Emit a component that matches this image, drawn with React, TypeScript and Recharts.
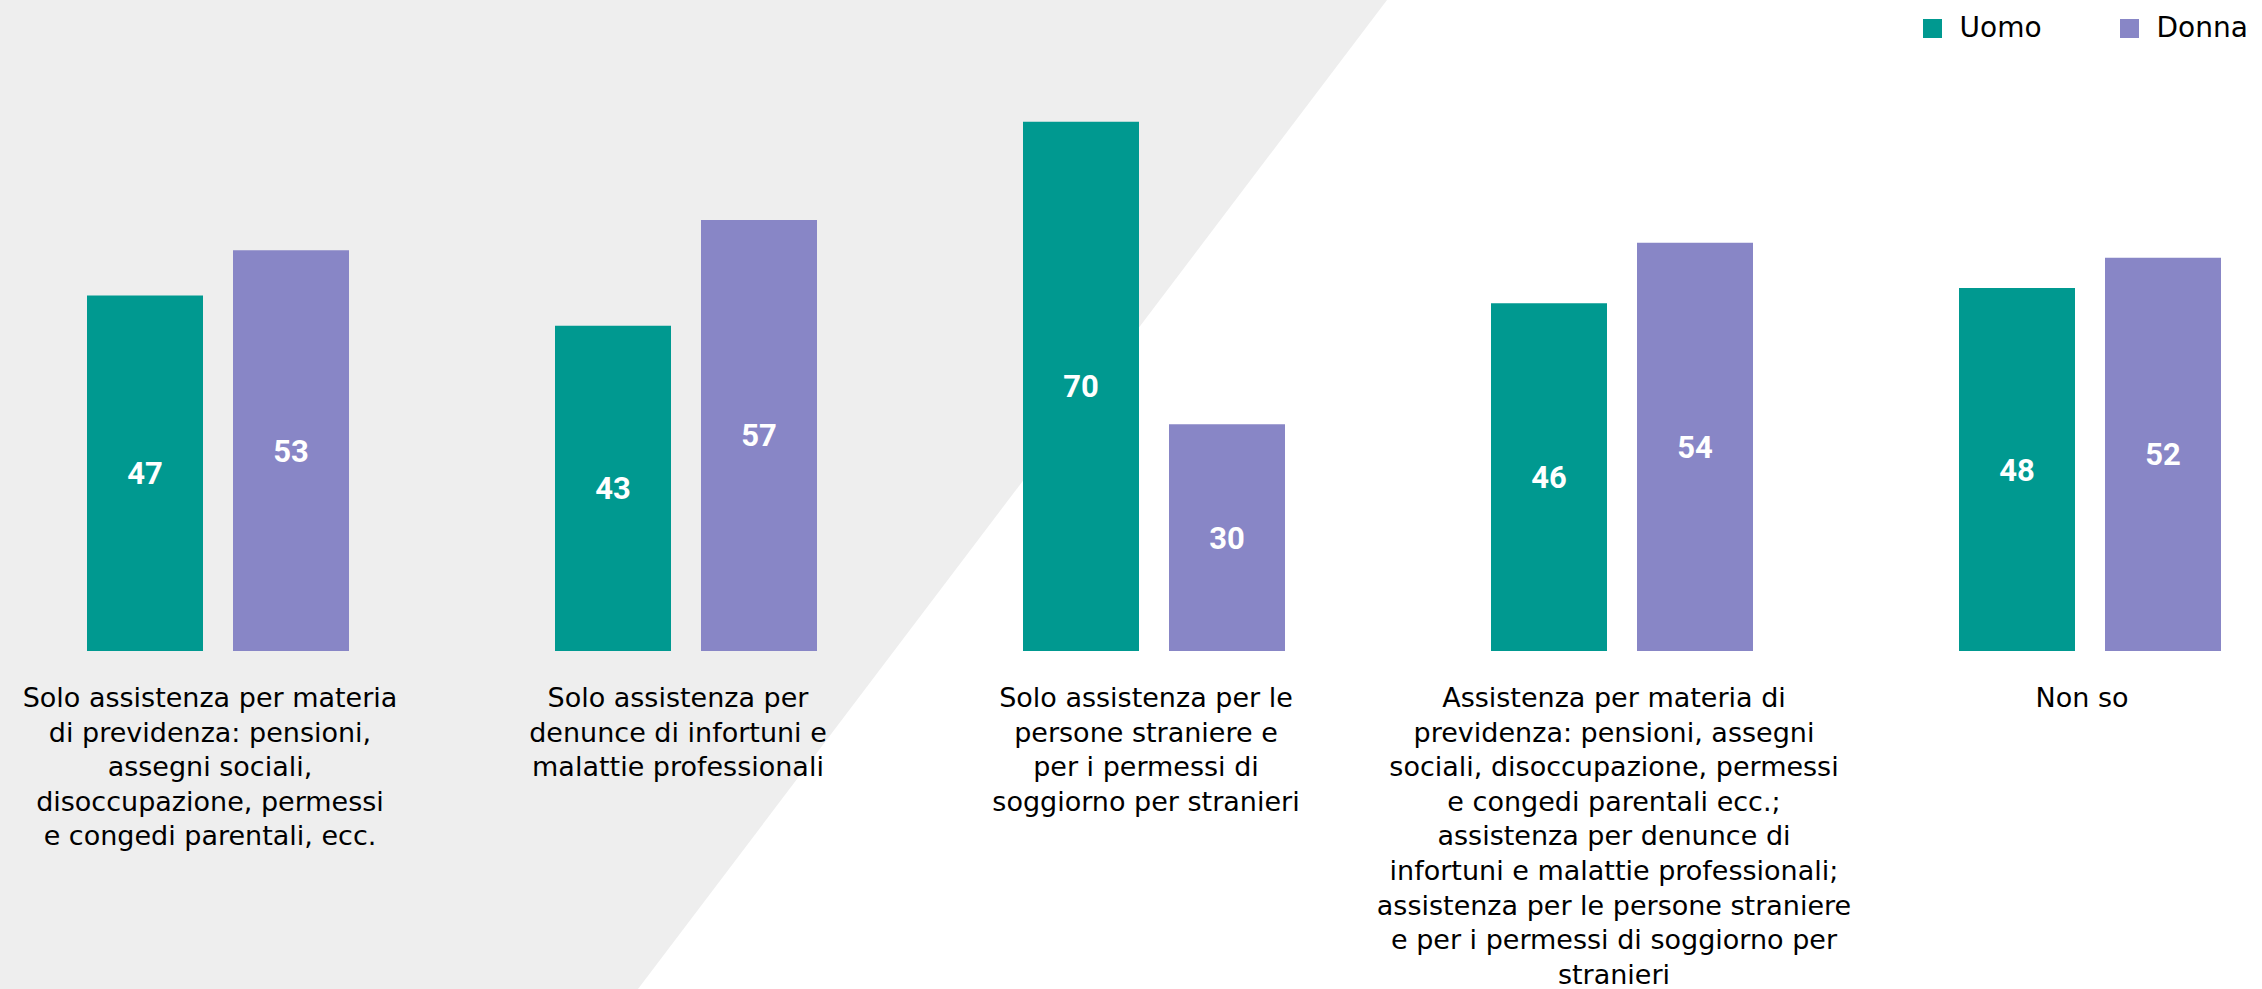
import React from "react";
import { BarChart, Bar, XAxis, YAxis, Legend, LabelList } from "recharts";

const categories = [
  "Solo assistenza per materia\ndi previdenza: pensioni,\nassegni sociali,\ndisoccupazione, permessi\ne congedi parentali, ecc.",
  "Solo assistenza per\ndenunce di infortuni e\nmalattie professionali",
  "Solo assistenza per le\npersone straniere e\nper i permessi di\nsoggiorno per stranieri",
  "Assistenza per materia di\nprevidenza: pensioni, assegni\nsociali, disoccupazione, permessi\ne congedi parentali ecc.;\nassistenza per denunce di\ninfortuni e malattie professionali;\nassistenza per le persone straniere\ne per i permessi di soggiorno per\nstranieri",
  "Non so",
];
const uomo = [47, 43, 70, 46, 48];
const donna = [53, 57, 30, 54, 52];
const seriesNames = ["Uomo", "Donna"];

const TEAL = "#009990";
const PURPLE = "#8886C6";
const FONT = "'DejaVu Sans', sans-serif";

const data = categories.map((c, i) => ({ cat: c, Uomo: uomo[i], Donna: donna[i] }));

const Tick = (props: any) => {
  const { x, y, payload } = props;
  const lines = String(payload.value).split("\n");
  const cx = x - 8;
  return (
    <text x={cx} y={y} textAnchor="middle" fontFamily={FONT} fontSize={27} fill="#000">
      {lines.map((l, i) => (
        <tspan key={i} x={cx} dy={i === 0 ? 56 : 34.6}>
          {l}
        </tspan>
      ))}
    </text>
  );
};

const LegendContent = (props: any) => {
  const payload = [...(props.payload || [])].sort(
    (a: any, b: any) => seriesNames.indexOf(a.value) - seriesNames.indexOf(b.value)
  );
  return (
    <div style={{ display: "flex", fontFamily: FONT, fontSize: 28, color: "#000", lineHeight: "28px" }}>
      {payload.map((p: any, i: number) => (
        <div key={i} style={{ display: "flex", alignItems: "center", marginRight: i === 0 ? 78 : 0 }}>
          <span style={{ display: "inline-block", width: 19, height: 19, background: p.color, marginRight: 18 }} />
          <span>{p.value}</span>
        </div>
      ))}
    </div>
  );
};

export default function App() {
  return (
    <div
      style={{
        position: "absolute",
        left: 0,
        top: 0,
        width: 2262,
        height: 989,
        overflow: "hidden",
        background: "#fff",
      }}
    >
      <svg width={2262} height={989} style={{ position: "absolute", left: 0, top: 0 }}>
        <polygon points="0,0 1387,0 638,989 0,989" fill="#EEEEEE" />
      </svg>
      <div style={{ position: "absolute", left: -16.5, top: 0 }}>
        <BarChart
          width={2340}
          height={989}
          data={data}
          margin={{ top: 46, right: 0, bottom: 0, left: 0 }}
          barSize={116}
          barGap={30}
        >
          <XAxis
            dataKey="cat"
            axisLine={false}
            tickLine={false}
            tickSize={0}
            tickMargin={0}
            height={338}
            interval={0}
            tick={<Tick />}
          />
          <YAxis hide domain={[0, 80]} />
          <Legend
            verticalAlign="top"
            align="left"
            content={<LegendContent />}
            wrapperStyle={{ position: "absolute", left: 1939, top: 14, width: 400, height: 0, overflow: "visible" }}
          />
          <Bar dataKey="Uomo" name={seriesNames[0]} fill={TEAL} isAnimationActive={false}>
            <LabelList dataKey="Uomo" position="center" fill="#fff" fontFamily="Roboto, sans-serif" fontWeight={700} fontSize={31} />
          </Bar>
          <Bar dataKey="Donna" name={seriesNames[1]} fill={PURPLE} isAnimationActive={false}>
            <LabelList dataKey="Donna" position="center" fill="#fff" fontFamily="Roboto, sans-serif" fontWeight={700} fontSize={31} />
          </Bar>
        </BarChart>
      </div>
    </div>
  );
}
